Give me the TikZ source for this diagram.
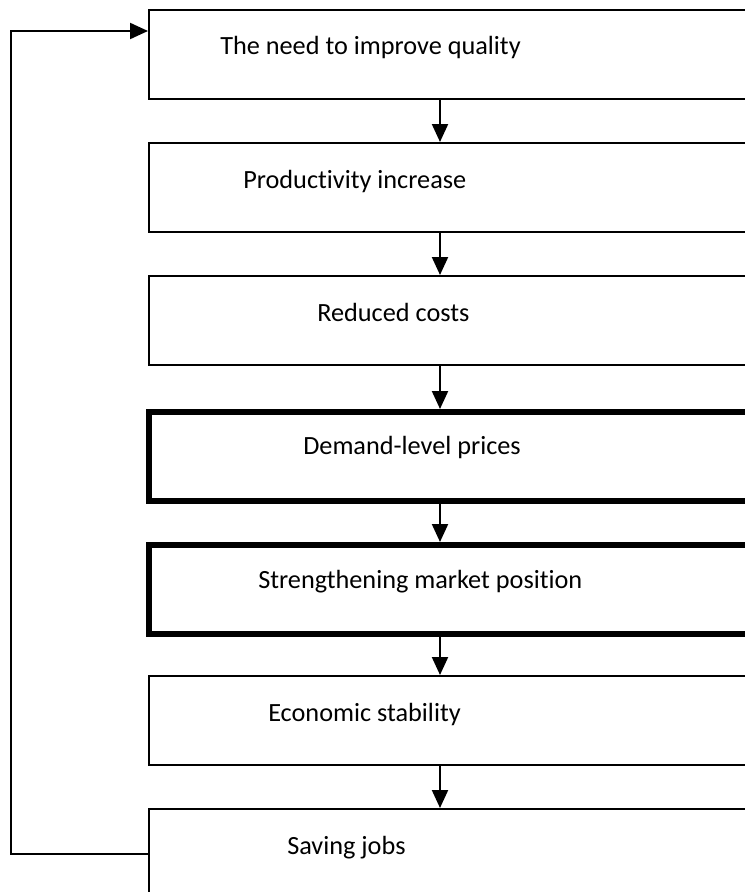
\documentclass[tikz,border=0pt]{standalone}
\usepackage{fontspec}
\setmainfont[Ligatures=NoCommon]{Carlito}
\usetikzlibrary{arrows.meta}
\begin{document}
\begin{tikzpicture}[x=0.75pt,y=-0.75pt,
  box/.style={draw, line width=1.6pt, minimum width=489pt, minimum height=66.75pt,
              inner sep=0pt, anchor=north west},
  thickbox/.style={box, line width=4.5pt},
  lbl/.style={anchor=base west, inner sep=0pt, font=\fontsize{19.7}{24}\selectfont},
  arr/.style={line width=1.6pt, -{Triangle[length=13.5pt,width=12pt]}}]
\useasboundingbox (0,0) rectangle (745,892);
\clip (0,0) rectangle (745,892);

% chain of boxes
\node[box]      (b1) at (148,9)   {};
\node[box]      (b2) at (148,142) {};
\node[box]      (b3) at (148,275) {};
\node[thickbox] (b4) at (146,409) {};
\node[thickbox] (b5) at (146,542) {};
\node[box]      (b6) at (148,675) {};
\node[box]      (b7) at (148,808) {};

% captions
\node[lbl] (t1) at (220,55)  {The need to improve quality};
\node[lbl] (t2) at (243,188) {Productivity increase};
\node[lbl] (t3) at (317,321) {Reduced costs};
\node[lbl] (t4) at (303,454) {Demand-level prices};
\node[lbl] (t5) at (258,588) {Strengthening market position};
\node[lbl] (t6) at (268,721) {Economic stability};
\node[lbl] (t7) at (287,854) {Saving jobs};

% downward arrows
\coordinate (ax) at (440,0);
\draw[arr] (b1.south -| ax) -- (b2.north -| ax);
\draw[arr] (b2.south -| ax) -- (b3.north -| ax);
\draw[arr] (b3.south -| ax) -- (b4.north -| ax);
\draw[arr] (b4.south -| ax) -- (b5.north -| ax);
\draw[arr] (b5.south -| ax) -- (b6.north -| ax);
\draw[arr] (b6.south -| ax) -- (b7.north -| ax);

% feedback loop
\coordinate (fb) at (11,31);
\draw[arr] (b7.west) -| (fb) -- (fb -| b1.west);
\end{tikzpicture}
\end{document}
